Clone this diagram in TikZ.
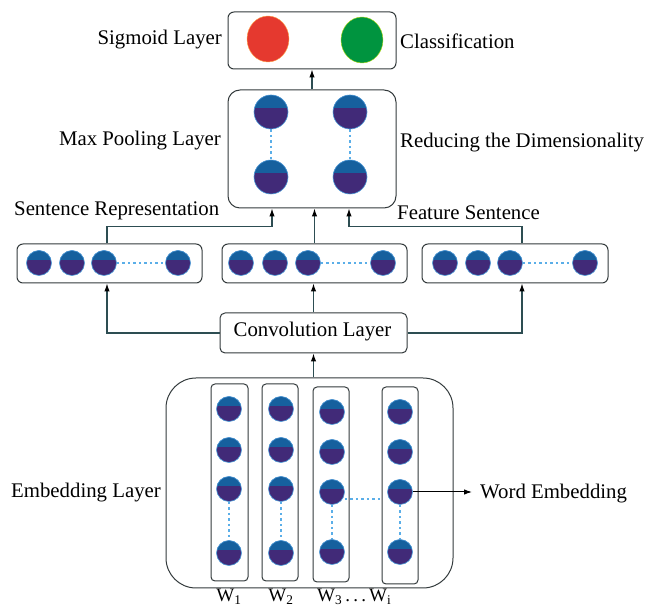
\documentclass[tikz,border=0pt]{standalone}
\usepackage{fontspec}
\setmainfont{Liberation Serif}
\usetikzlibrary{arrows.meta,shapes.geometric}
\definecolor{purp}{HTML}{412A78}
\definecolor{blu}{HTML}{16609E}
\definecolor{rim}{HTML}{4A9AD8}
\definecolor{dotc}{HTML}{5AAEE8}
\definecolor{edge}{HTML}{333A3C}
\definecolor{conn}{HTML}{2D4D52}
\definecolor{redc}{HTML}{E5392F}
\definecolor{grnc}{HTML}{00943F}
\begin{document}
\begin{tikzpicture}[x=1pt,y=-1pt,
  box/.style={draw=edge, line width=1pt, rounded corners=6pt, inner sep=0pt},
  ball/.style={circle, inner sep=0pt, minimum size=#1, fill=purp, draw=rim, line width=0.6pt,
    path picture={\fill[blu] (path picture bounding box.north west) rectangle ([yshift=-0.37*#1]path picture bounding box.north east);}},
  ball/.default=25pt,
  dotl/.style={dotc, line width=1.1pt, dash pattern=on 2.5pt off 3pt},
  wire/.style={conn, line width=1.1pt, -{Latex[length=8pt,width=5.5pt,color=black]}},
  lab/.style={inner sep=0pt, font=\fontsize{20.8}{24}\selectfont}]
\useasboundingbox (0,0) rectangle (657,609);

% Sigmoid layer
\node[box, minimum width=168pt, minimum height=57pt] (sig) at (312,40.5) {};
\node[ellipse, fill=redc, draw=orange!70, line width=0.4pt, minimum width=42pt, minimum height=46pt, inner sep=0pt] (red) at (268,39) {};
\node[ellipse, fill=grnc, draw=yellow!70!green, line width=0.4pt, minimum width=42pt, minimum height=46pt, inner sep=0pt] (grn) at (362,40) {};
\node[lab, anchor=east] (tsig) at (222,40) {Sigmoid Layer};
\node[lab, anchor=west] (tcls) at (400,41) {Classification};

% Max pooling layer
\node[box, rounded corners=12pt, minimum width=168pt, minimum height=118pt] (pool) at (312,149) {};
\node[ball=34pt] (m11) at (271,112) {};
\node[ball=34pt] (m12) at (271,177) {};
\node[ball=34pt] (m21) at (350,112) {};
\node[ball=34pt] (m22) at (350,177) {};
\draw[dotl] (m11.south) -- (m12.north);
\draw[dotl] (m21.south) -- (m22.north);
\node[lab, anchor=east] (tpool) at (221,141) {Max Pooling Layer};
\node[lab, anchor=west] (tred) at (400,143) {Reducing the Dimensionality};

% Sentence boxes
\node[box, minimum width=185pt, minimum height=39pt] (s1) at (109.5,263.5) {};
\node[box, minimum width=185pt, minimum height=39pt] (s2) at (314.5,263.5) {};
\node[box, minimum width=186pt, minimum height=39pt] (s3) at (515,263.5) {};
\foreach \n/\a/\b/\c/\d in {1/39/72/104/178, 2/241/275/308/383, 3/445/478/510/585}{
  \node[ball] (s\n a) at (\a,263) {};
  \node[ball] (s\n b) at (\b,263) {};
  \node[ball] (s\n c) at (\c,263) {};
  \node[ball] (s\n d) at (\d,263) {};
  \draw[dotl] (s\n c.east) -- (s\n d.west);
}
\node[lab, anchor=west] (tsen) at (14,211) {Sentence Representation};
\node[lab, anchor=west] (tfea) at (397,213) {Feature Sentence};

% Convolution
\node[box, rounded corners=5pt, minimum width=187pt, minimum height=40pt] (conv) at (313.5,333) {};
\node[lab] (tconv) at (312.5,332) {Convolution Layer};

% Embedding
\node[box, rounded corners=30pt, minimum width=287pt, minimum height=210pt] (emb) at (309.5,483) {};
\node[box, rounded corners=4pt, minimum width=37pt, minimum height=197pt] (col1) at (229.5,482.5) {};
\node[box, rounded corners=4pt, minimum width=36pt, minimum height=197pt] (col2) at (280,482.5) {};
\node[box, rounded corners=4pt, minimum width=36pt, minimum height=195pt] (col3) at (331,484.5) {};
\node[box, rounded corners=4pt, minimum width=36pt, minimum height=197pt] (col4) at (400,485.5) {};
\foreach \n/\x/\ya/\yb/\yc/\yd in {1/229/409/450/489/553, 2/281/409/450/489/553, 3/332/412/452/492/552, 4/400/412/452/492/552}{
  \node[ball] (e\n a) at (\x,\ya) {};
  \node[ball] (e\n b) at (\x,\yb) {};
  \node[ball] (e\n c) at (\x,\yc) {};
  \node[ball] (e\n d) at (\x,\yd) {};
  \draw[dotl] (e\n c.south) -- (e\n d.north);
}
\draw[dotl] ([yshift=-7pt]e3c.east) -- ([yshift=-7pt]e3c.east -| col4.west);
\node[lab, anchor=west] (temb) at (11,493) {Embedding Layer};
\coordinate (we) at (472,492);
\draw[black, line width=1pt, -{Latex[length=8pt,width=5.5pt]}] (e4c.east) -- (we);
\node[lab, anchor=west] (tword) at (480,494) {Word Embedding};
\node[lab, anchor=base, font=\fontsize{19}{22}\selectfont] (w1) at (229,602) {W\textsubscript{1}};
\node[lab, anchor=base, font=\fontsize{19}{22}\selectfont] (w2) at (281,602) {W\textsubscript{2}};
\node[lab, anchor=base west, font=\fontsize{19}{22}\selectfont] (w3) at (317,602) {W\textsubscript{3}\,.\,.\,.\,W\textsubscript{i}};

% Connectors
\draw[wire] (pool.north) -- (sig.south);
\draw[wire] ([xshift=-2.5pt]s1.north) -- ++(0,-17) -| ([xshift=-40pt]pool.south);
\draw[wire] (s2.north) -- (s2.north |- pool.south);
\draw[wire] ([xshift=7pt]s3.north) -- ++(0,-17) -| ([xshift=37pt]pool.south);
\draw[wire] (conv.north) -- (conv.north |- s2.south);
\draw[wire] (conv.west) -| ([xshift=-2.5pt]s1.south);
\draw[wire] (conv.east) -| ([xshift=7pt]s3.south);
\draw[wire] (conv.south |- emb.north) -- (conv.south);
\end{tikzpicture}
\end{document}
